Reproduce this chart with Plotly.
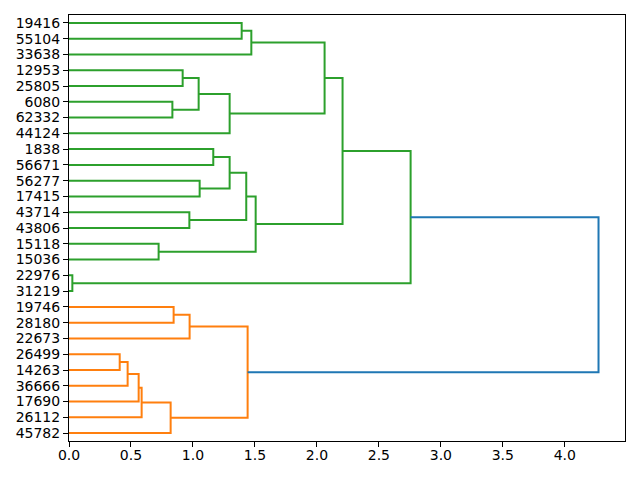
import plotly.graph_objects as go

# Leaves, from bottom to top
leaves = ["45782", "26112", "17690", "36666", "14263", "26499", "22673", "28180",
          "19746", "31219", "22976", "15036", "15118", "43806", "43714", "17415",
          "56277", "56671", "1838", "44124", "62332", "6080", "25805", "12953",
          "33638", "55104", "19416"]

# Merges: name, child a, child b, height, color group
merge_names = ["A", "B", "C", "D", "E", "F", "G", "O",
               "H", "I", "J", "K", "L", "M", "N", "P",
               "Q", "R", "S", "T", "U", "V", "W", "X", "Y", "ROOT"]
merge_a = ["26499", "A", "B", "C", "D", "19746", "F", "G",
           "22976", "15118", "43714", "56277", "1838", "L", "M", "N",
           "19416", "Q", "12953", "6080", "S", "U", "R", "W", "X", "Y"]
merge_b = ["14263", "36666", "17690", "26112", "45782", "28180", "22673", "E",
           "31219", "15036", "43806", "17415", "56671", "K", "J", "I",
           "55104", "33638", "25805", "62332", "T", "44124", "V", "P", "H", "O"]
merge_h = [0.409, 0.473, 0.562, 0.586, 0.820, 0.844, 0.973, 1.441,
           0.027, 0.723, 0.971, 1.054, 1.164, 1.296, 1.430, 1.506,
           1.393, 1.471, 0.917, 0.834, 1.046, 1.296, 2.062, 2.207, 2.756, 4.272]
merge_group = ["C1"] * 8 + ["C2"] * 17 + ["C0"]

colors = {"C0": "#1f77b4", "C1": "#ff7f0e", "C2": "#2ca02c"}

pos = {lab: 5 + 10 * i for i, lab in enumerate(leaves)}
height = {lab: 0.0 for lab in leaves}

fig = go.Figure()
for name, a, b, h, g in zip(merge_names, merge_a, merge_b, merge_h, merge_group):
    ya, yb = pos[a], pos[b]
    fig.add_trace(go.Scatter(
        x=[height[a], h, h, height[b]],
        y=[ya, ya, yb, yb],
        mode="lines",
        line=dict(color=colors[g], width=2),
        showlegend=False,
        hoverinfo="skip",
    ))
    pos[name] = (ya + yb) / 2
    height[name] = h

xmax = max(merge_h) * 1.05
font = dict(family="DejaVu Sans", size=14, color="black")

fig.update_layout(
    width=640, height=480,
    margin=dict(l=69, r=15, t=15, b=39, autoexpand=False),
    plot_bgcolor="white", paper_bgcolor="white",
    font=font,
    xaxis=dict(range=[0, xmax], tickvals=[0, 0.5, 1, 1.5, 2, 2.5, 3, 3.5, 4],
               tickformat=".1f", showgrid=False, zeroline=False, automargin=False,
               showline=True, linecolor="black", linewidth=1, mirror=True,
               ticks="outside", ticklen=5, tickwidth=1, tickcolor="black",
               ticklabelstandoff=-4),
    yaxis=dict(range=[0, 10 * len(leaves)], tickvals=[5 + 10 * i for i in range(len(leaves))],
               ticktext=leaves, showgrid=False, zeroline=False, automargin=False,
               showline=True, linecolor="black", linewidth=1, mirror=True,
               ticks="outside", ticklen=5, tickwidth=1, tickcolor="black"),
)

fig.write_html("out.html", config={"displayModeBar": False},
               post_script="document.body.style.margin='0';")
